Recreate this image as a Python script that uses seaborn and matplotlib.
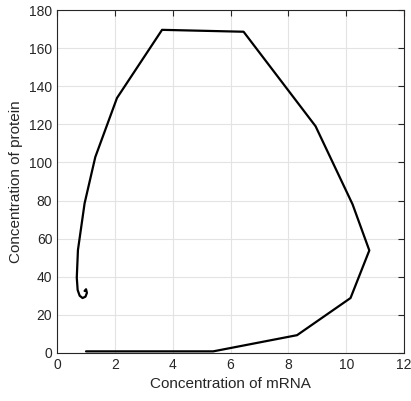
import numpy as np
import pandas as pd
import matplotlib
matplotlib.use("Agg")
import matplotlib.pyplot as plt
import seaborn as sns

# Trayectoria en el plano de fase (mRNA vs proteína)
mrna = [1.0, 5.4, 8.3, 10.15, 10.8, 10.22, 8.94, 6.45, 3.63, 2.07, 1.32,
        0.95, 0.72, 0.68, 0.71, 0.78, 0.88, 0.98, 1.03, 1.0, 0.95]
protein = [0.8, 0.8, 9.3, 28.8, 53.8, 78.0, 119.0, 168.6, 169.6, 133.8, 102.8,
           78.5, 54.0, 39.5, 33.0, 30.0, 28.8, 29.5, 31.5, 33.4, 32.5]

df = pd.DataFrame({"mrna": mrna, "protein": protein})

sns.set_style("white")
plt.rcParams["font.family"] = ["Liberation Sans", "DejaVu Sans"]

fig = plt.figure(figsize=(4.11, 4.01), dpi=100)
ax = fig.add_axes([0.139, 0.12, 0.844, 0.855])

sns.lineplot(data=df, x="mrna", y="protein", sort=False, estimator=None,
             color="black", linewidth=1.6, ax=ax)

ax.set_xlim(0, 12)
ax.set_ylim(0, 180)
ax.set_xticks(np.arange(0, 13, 2))
ax.set_yticks(np.arange(0, 181, 20))
ax.grid(True, color="#e3e3e3", linewidth=0.8)
ax.set_axisbelow(True)
for s in ax.spines.values():
    s.set_color("#262626")
    s.set_linewidth(0.8)
ax.tick_params(direction="in", length=4, top=True, right=True,
               labelsize=10, colors="#262626", width=0.8)
ax.set_xlabel("Concentration of mRNA", fontsize=11, color="#262626")
ax.set_ylabel("Concentration of protein", fontsize=11, color="#262626")

fig.savefig("out.png", dpi=100)
